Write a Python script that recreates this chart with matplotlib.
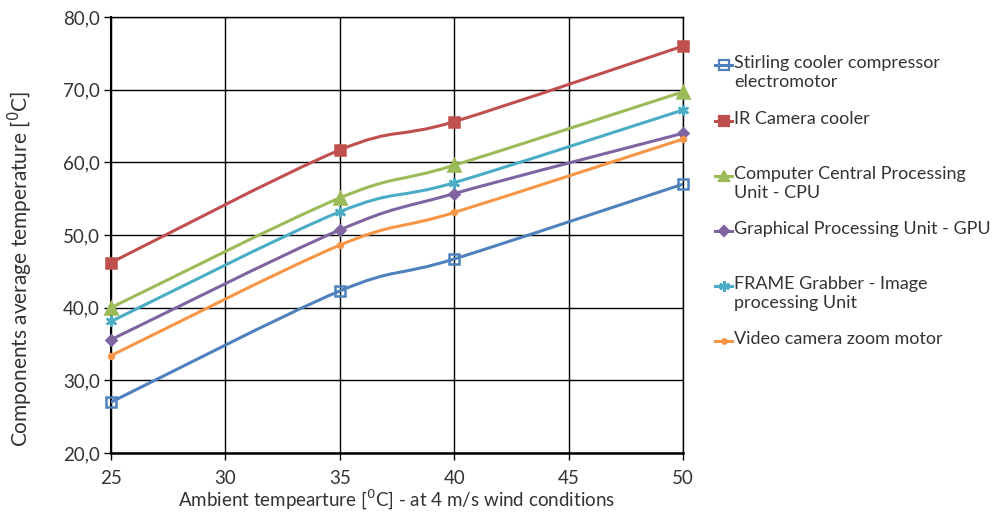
import numpy as np
import matplotlib
matplotlib.use('Agg')
import matplotlib.pyplot as plt
from matplotlib.path import Path
from matplotlib.patches import PathPatch
from matplotlib.lines import Line2D
from matplotlib.ticker import FuncFormatter, MultipleLocator

plt.rcParams['font.family'] = ['Lato', 'DejaVu Sans']

ambient = [25, 35, 40, 50]
stirling = [27.0, 42.3, 46.7, 57.0]
ir_cooler = [46.2, 61.7, 65.6, 76.0]
cpu = [40.0, 55.1, 59.6, 69.7]
gpu = [35.6, 50.7, 55.7, 64.0]
frame = [38.1, 53.2, 57.2, 67.2]
video = [33.4, 48.6, 53.1, 63.2]

series_labels = [
    "Stirling cooler compressor\nelectromotor",
    "IR Camera cooler",
    "Computer Central Processing\nUnit - CPU",
    "Graphical Processing Unit - GPU",
    "FRAME Grabber - Image\nprocessing Unit",
    "Video camera zoom motor",
]
series = [stirling, ir_cooler, cpu, gpu, frame, video]
colors = ['#4F81BD', '#C0504D', '#9BBB59', '#8064A2', '#4BACC6', '#F79646']
markers = ['s', 's', '^', 'D', (6, 2, 0), 'o']
msizes = [7.5, 7.5, 8, 5, 8, 3.5]
mfaces = ['none', '#C0504D', '#9BBB59', '#8064A2', '#4BACC6', '#F79646']

TXT = '#333333'
W, H = 998, 516

fig = plt.figure(figsize=(9.98, 5.16), dpi=100)
ax = fig.add_axes([111 / W, 1 - 453 / H, 572 / W, 436 / H])


def smooth_path(xs, ys):
    pts = np.column_stack([xs, ys]).astype(float)
    n = len(pts)
    verts = [pts[0]]
    codes = [Path.MOVETO]
    for i in range(n - 1):
        p0 = pts[i - 1] if i > 0 else pts[i]
        p1 = pts[i]
        p2 = pts[i + 1]
        p3 = pts[i + 2] if i + 2 < n else pts[i + 1]
        c1 = p1 + (p2 - p0) / 6.0
        c2 = p2 - (p3 - p1) / 6.0
        verts += [c1, c2, p2]
        codes += [Path.CURVE4] * 3
    return Path(verts, codes)


for ys, c, m, ms, mf in zip(series, colors, markers, msizes, mfaces):
    ax.add_patch(PathPatch(smooth_path(ambient, ys), facecolor='none',
                           edgecolor=c, lw=2.2, zorder=3, capstyle='round'))
    ax.plot(ambient, ys, linestyle='none', marker=m, markersize=ms,
            markerfacecolor=mf, markeredgecolor=c, markeredgewidth=1.8, zorder=4,
            clip_on=False)

ax.set_xlim(25, 50)
ax.set_ylim(20, 80)
ax.xaxis.set_major_locator(MultipleLocator(5))
ax.yaxis.set_major_locator(MultipleLocator(10))
ax.yaxis.set_major_formatter(FuncFormatter(lambda v, p: f"{v:.1f}".replace('.', ',')))
ax.grid(True, color='black', lw=1.0, zorder=1)
for s in ax.spines.values():
    s.set_color('black')
    s.set_linewidth(1.0)
ax.spines['bottom'].set_linewidth(1.8)
ax.spines['left'].set_linewidth(1.5)
ax.tick_params(axis='both', direction='out', length=5, width=1, color='black',
               labelsize=13.5, labelcolor=TXT, pad=3)
ax.tick_params(axis='x', pad=7)

ax.set_xlabel("Ambient tempearture [$^{0}$C] - at 4 m/s wind conditions",
              fontsize=13.5, color=TXT, labelpad=1)
ax.set_ylabel("Components average temperature [$^{0}$C]", fontsize=15, color=TXT)
ax.yaxis.set_label_coords(-0.133, 0.422)

# legend drawn manually (markers aligned to first text line)
leg_centers = [65, 121, 176, 231, 286, 341]
for lab, c, m, ms, mf, yc_px in zip(series_labels, colors, markers, msizes, mfaces, leg_centers):
    yc = 1 - yc_px / H
    fig.add_artist(Line2D([715 / W, 723.5 / W, 732 / W], [yc, yc, yc],
                          transform=fig.transFigure,
                          color=c, lw=2.2, marker=m, markersize=ms * 0.95,
                          markevery=[1],
                          markerfacecolor=mf, markeredgecolor=c, markeredgewidth=1.6))
    fig.text(734 / W, yc + 10 / H, lab, ha='left', va='top', fontsize=13, color=TXT,
             linespacing=1.25, transform=fig.transFigure)

fig.savefig('out.png', dpi=100, facecolor='white')
